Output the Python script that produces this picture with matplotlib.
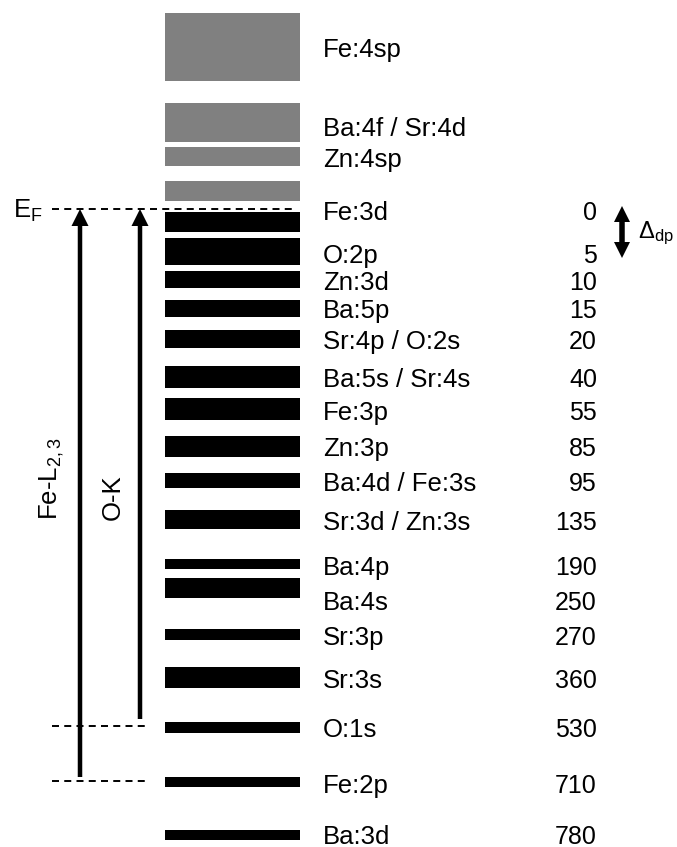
import matplotlib
matplotlib.use("Agg")
import matplotlib.pyplot as plt

plt.rcParams["font.family"] = ["Liberation Sans", "DejaVu Sans"]
plt.rcParams["mathtext.fontset"] = "custom"
plt.rcParams["mathtext.rm"] = "Liberation Sans"
plt.rcParams["mathtext.it"] = "Liberation Sans"

# unoccupied (grey) and occupied (black) bands, schematic vertical extent
empty_top = [13, 103, 147, 181]
empty_bottom = [81, 142, 166, 201]
filled_top = [212, 238, 271, 300, 330, 366, 398, 436, 473, 510,
              559, 578, 629, 667, 722, 777, 830]
filled_bottom = [232, 265, 288, 317, 348, 388, 420, 457, 488, 529,
                 569, 598, 640, 688, 733, 787, 840]

level_names = ["Fe:4sp", "Ba:4f / Sr:4d", "Zn:4sp", "Fe:3d", "O:2p",
               "Zn:3d", "Ba:5p", "Sr:4p / O:2s", "Ba:5s / Sr:4s", "Fe:3p",
               "Zn:3p", "Ba:4d / Fe:3s", "Sr:3d / Zn:3s", "Ba:4p", "Ba:4s",
               "Sr:3p", "Sr:3s", "O:1s", "Fe:2p", "Ba:3d"]
level_y = [48, 127, 158, 211, 254, 281, 309, 340, 378, 411,
           447, 482, 521, 566, 601, 636, 679, 728, 784, 835]
binding_ev = [None, None, None, 0, 5, 10, 15, 20, 40, 55,
              85, 95, 135, 190, 250, 270, 360, 530, 710, 780]

fermi_y = 209
o1s_y = 726
fe2p_y = 781

fig = plt.figure(figsize=(6.77, 8.47), dpi=100)
ax = fig.add_axes([0, 0, 1, 1])
ax.set_xlim(0, 677)
ax.set_ylim(847, 0)
ax.axis("off")

bar_left, bar_w = 165, 135
for t, b in zip(empty_top, empty_bottom):
    ax.barh((t + b) / 2, bar_w, height=b - t, left=bar_left,
            color="#808080", edgecolor="none")
for t, b in zip(filled_top, filled_bottom):
    ax.barh((t + b) / 2, bar_w, height=b - t, left=bar_left,
            color="black", edgecolor="none")

fs = 18.5
fs_num = 18
cap = 0.716 * fs_num * 100 / 72
for name, y, e in zip(level_names, level_y, binding_ev):
    ax.text(323, y + cap / 2, name, fontsize=fs, ha="left", va="baseline")
    if e is not None:
        ax.text(597, y + cap / 2, str(e), fontsize=fs_num, ha="right",
                va="baseline")

# reference lines
dash = dict(color="black", lw=1.4, dashes=(3.6, 2.7))
ax.plot([52, 293], [fermi_y, fermi_y], **dash)
ax.plot([52, 150], [o1s_y, o1s_y], **dash)
ax.plot([52, 150], [fe2p_y, fe2p_y], **dash)

ax.text(13, fermi_y + cap / 2, r"E$_\mathregular{F}$", fontsize=fs,
        ha="left", va="baseline")

# absorption edges
ax.arrow(80, fe2p_y - 4, 0, fermi_y - fe2p_y + 4, width=4.5, head_width=17,
         head_length=17, length_includes_head=True, fc="black", ec="none")
ax.arrow(140, 719, 0, fermi_y - 719, width=4.5, head_width=17,
         head_length=17, length_includes_head=True, fc="black", ec="none")
ax.text(52, 520, r"Fe-L$_\mathregular{2,3}$", fontsize=fs, rotation=90,
        ha="center", va="bottom")
ax.text(113, 520, "O-K", fontsize=fs, rotation=90, ha="center", va="bottom")

# charge-transfer gap
mid = 232
for end in (206, 258):
    ax.arrow(622, mid, 0, end - mid, width=5.5, head_width=16,
             head_length=16, length_includes_head=True, fc="black", ec="none")
ax.text(638, 238, r"$\Delta_\mathregular{dp}$", fontsize=17,
        ha="left", va="baseline")

fig.savefig("out.png", dpi=100)
